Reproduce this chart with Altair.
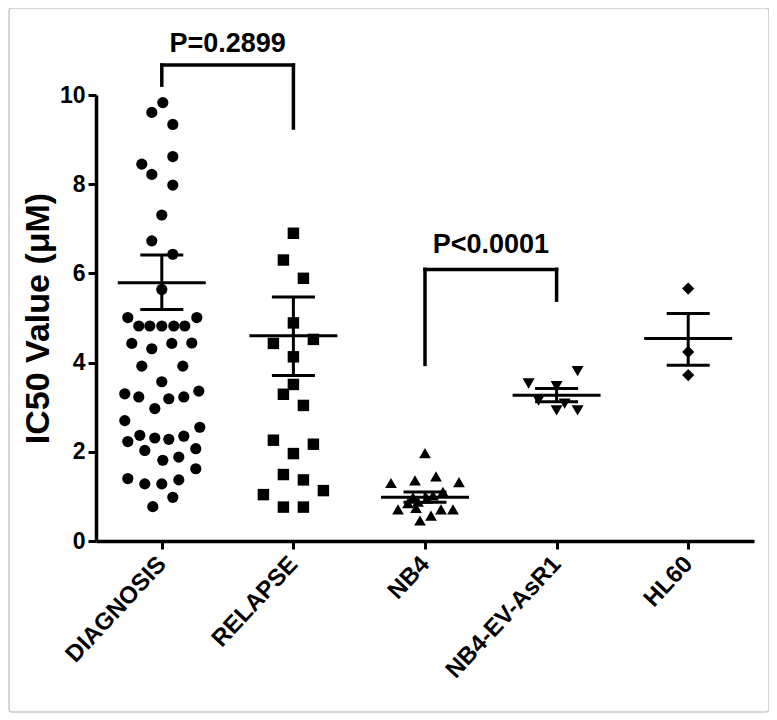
import altair as alt
import pandas as pd

# ---------------- data ----------------
categories = ["DIAGNOSIS", "RELAPSE", "NB4", "NB4-EV-AsR1", "HL60"]
shapes = ["circle", "square", "triangle-up", "triangle-down", "diamond"]

diagnosis_values = [9.83, 9.61, 9.34, 8.62, 8.45, 8.22, 7.98, 7.31, 6.73, 6.43,
                    5.64, 5.01, 5.01, 4.82, 4.82, 4.82, 4.82, 4.82,
                    4.43, 4.31, 4.43, 4.44, 3.92, 3.92, 3.57,
                    3.30, 3.23, 3.19, 3.23, 3.36, 2.97, 2.70, 2.55,
                    2.37, 2.31, 2.28, 2.35, 2.23, 2.03, 1.88, 2.07, 1.81, 1.62,
                    1.40, 1.28, 1.28, 1.37, 0.98, 0.77]
diagnosis_jitter = [1, -10, 11, 11, -20, -10, 11, 0, -10, 11,
                    0, -34, 35, -23, -12, 0, 12, 23,
                    -30, -10, 10, 30, -20, 21, 0,
                    -37, -23, 7, 22, 37, -7, -37, 38,
                    -22, -7, 7, 22, -34, -17, 17, 34, 1, 34,
                    -34, -17, 0, 17, 11, -9]

relapse_values = [6.90, 6.30, 5.89, 4.89, 4.43, 4.52, 4.13, 3.51, 3.29, 3.04,
                  2.26, 2.17, 1.96, 1.49, 1.37, 1.04, 1.13, 0.76, 0.76]
relapse_jitter = [0, -10, 10, 0, -20, 20, 0, 0, -10, 10,
                  -20, 20, 0, -10, 10, -30, 30, -10, 10]

nb4_values = [1.97, 1.30, 1.36, 1.45, 1.32, 1.10, 0.98, 0.95, 1.02,
              0.85, 0.88, 0.71, 0.74, 0.71, 0.71, 0.57, 0.46]
nb4_jitter = [0, -34, -10, 11, 34, 18, -12, 2, 8,
              -17, -7, -27, -9, 16, 28, 6, -5]

nb4ev_values = [3.81, 3.53, 3.47, 3.15, 3.08, 2.93, 2.93]
nb4ev_jitter = [21, -28, 0, -18, 8, 0, 21]

hl60_values = [5.66, 4.24, 3.72]
hl60_jitter = [0, 0, 0]

means = [5.79, 4.60, 0.98, 3.27, 4.54]
sem_high = [6.41, 5.47, 1.10, 3.42, 5.10]
sem_low = [5.19, 3.71, 0.87, 3.12, 3.94]

p_labels = ["P=0.2899", "P<0.0001"]
bracket_left = [0, 2]
bracket_right = [1, 3]
bracket_top = [10.67, 6.09]
bracket_left_end = [10.22, 3.96]
bracket_right_end = [9.26, 5.40]
p_label_y = [10.97, 6.45]

y_ticks = [0, 2, 4, 6, 8, 10]

# ---------------- build tables ----------------
STEP_PX = 131.6          # pixels per category step (658 px / 5)
MEAN_HALF = 44 / STEP_PX
CAP_HALF = 21.5 / STEP_PX

groups = [
    (diagnosis_values, diagnosis_jitter),
    (relapse_values, relapse_jitter),
    (nb4_values, nb4_jitter),
    (nb4ev_values, nb4ev_jitter),
    (hl60_values, hl60_jitter),
]
rows = []
for i, (vals, jit) in enumerate(groups):
    for v, j in zip(vals, jit):
        rows.append({"group": categories[i], "x": i + 0.5 + j / STEP_PX, "y": v})
points = pd.DataFrame(rows)

summary = pd.DataFrame({
    "group": categories,
    "c": [i + 0.5 for i in range(len(categories))],
    "mean": means, "hi": sem_high, "lo": sem_low,
})
summary["m1"] = summary["c"] - MEAN_HALF
summary["m2"] = summary["c"] + MEAN_HALF
summary["k1"] = summary["c"] - CAP_HALF
summary["k2"] = summary["c"] + CAP_HALF

seg_rows = []
for l, r, top, le, re in zip(bracket_left, bracket_right, bracket_top,
                             bracket_left_end, bracket_right_end):
    xl, xr = l + 0.5, r + 0.5
    seg_rows.append({"x": xl, "x2": xl, "y": le, "y2": top})
    seg_rows.append({"x": xl, "x2": xr, "y": top, "y2": top})
    seg_rows.append({"x": xr, "x2": xr, "y": re, "y2": top})
segs = pd.DataFrame(seg_rows)

labels = pd.DataFrame({
    "text": p_labels,
    "x": [(l + r) / 2 + 0.5 for l, r in zip(bracket_left, bracket_right)],
    "y": p_label_y,
})

FONT = "Liberation Sans"
label_expr = "[" + ",".join("'%s'" % c for c in categories) + "][floor(datum.value)]"

x_scale = alt.Scale(domain=[0, 5], nice=False, zero=False)
y_scale = alt.Scale(domain=[0, 10], nice=False, zero=True)

x_axis = alt.Axis(values=[i + 0.5 for i in range(len(categories))],
                  labelExpr=label_expr, labelAngle=-47, labelAlign="right",
                  labelBaseline="middle", labelFontSize=24, labelFont=FONT,
                  labelFontWeight="bold", labelColor="black", labelPadding=11,
                  title=None, grid=False, domainColor="black", domainWidth=3.5,
                  tickColor="black", tickWidth=3, tickSize=8)
y_axis = alt.Axis(values=y_ticks, labelFontSize=23, labelFont=FONT,
                  labelFontWeight="bold", labelColor="black", labelPadding=3,
                  title="IC50 Value (μM)", titleFont=FONT, titleFontSize=34,
                  titleFontWeight="bold", titleColor="black", titlePadding=4,
                  grid=False, domainColor="black", domainWidth=3.5,
                  tickColor="black", tickWidth=3, tickSize=8)

frame = alt.Chart(pd.DataFrame({"a": [0]})).mark_rect(
    fill=None, stroke="#c9c9c9", strokeWidth=1.5, cornerRadius=3
).encode(x=alt.value(-87), x2=alt.value(673), y=alt.value(-87), y2=alt.value(617))

pts = alt.Chart(points).mark_point(filled=True, opacity=1, color="black").encode(
    x=alt.X("x:Q", scale=x_scale, axis=x_axis),
    y=alt.Y("y:Q", scale=y_scale, axis=y_axis),
    shape=alt.Shape("group:N", scale=alt.Scale(domain=categories, range=shapes), legend=None),
    size=alt.Size("group:N", scale=alt.Scale(domain=categories, range=[125, 150, 150, 150, 150]), legend=None),
)

base = alt.Chart(summary)
mean_rule = base.mark_rule(color="black", strokeWidth=3).encode(
    x="m1:Q", x2="m2:Q", y="mean:Q")
sem_rule = base.mark_rule(color="black", strokeWidth=3).encode(
    x="c:Q", y="lo:Q", y2="hi:Q")
cap_hi = base.mark_rule(color="black", strokeWidth=3).encode(
    x="k1:Q", x2="k2:Q", y="hi:Q")
cap_lo = base.mark_rule(color="black", strokeWidth=3).encode(
    x="k1:Q", x2="k2:Q", y="lo:Q")

brackets = alt.Chart(segs).mark_rule(color="black", strokeWidth=3.5, strokeCap="square").encode(
    x="x:Q", x2="x2:Q", y="y:Q", y2="y2:Q")

ptext = alt.Chart(labels).mark_text(
    font=FONT, fontSize=27, fontWeight="bold", color="black",
    baseline="alphabetic", align="center"
).encode(x="x:Q", y="y:Q", text="text:N")

chart = alt.layer(frame, pts, mean_rule, sem_rule, cap_hi, cap_lo, brackets, ptext).properties(
    width=658, height=446,
    autosize="none",
    padding={"left": 88, "top": 87, "right": 15, "bottom": 175},
    background="white",
).configure_view(strokeWidth=0, stroke="transparent")

chart.save("out.html", embed_options={"renderer": "svg", "actions": False})
